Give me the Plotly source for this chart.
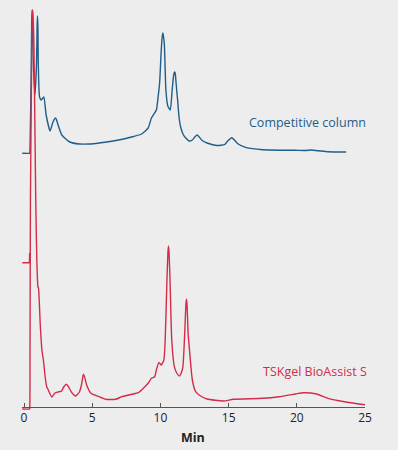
import plotly.graph_objects as go

# Competitive column (blue) — time (min), signal (offset trace)
blue_t = [-0.13, 0.40, 0.42, 0.45, 0.52, 0.56, 0.59, 0.62, 0.68, 0.80, 0.92, 0.96, 0.99, 1.02, 1.04, 1.14, 1.26, 1.45, 1.62, 1.91,
          2.12, 2.32, 2.52, 2.77, 3.35, 4.06, 4.78, 5.50, 6.94, 7.88, 8.62, 9.10, 9.34, 9.70, 9.82,
          9.94, 10.06, 10.13, 10.18, 10.23, 10.29, 10.40, 10.54, 10.72, 10.86, 10.97, 11.03, 11.08, 11.13, 11.19, 11.26, 11.37,
          11.50, 11.69, 11.86, 12.10, 12.34, 12.55, 12.70, 12.84, 13.06, 13.42, 14.14, 14.71, 14.93,
          15.22, 15.43, 15.65, 16.29, 17.50, 19.89, 20.61, 21.09, 21.55, 22.27, 23.61]
blue_v = [253.7, 253.7, 254, 267, 330, 385, 397, 385, 345, 312, 345, 382, 391, 378, 347, 310, 307, 310, 292, 276,
          285, 289, 281, 272, 265, 263, 263, 264, 267, 270, 273, 279, 289, 297, 309,
          324, 357, 370, 374, 370, 362, 317, 301, 297, 317, 332, 335, 334, 327, 317, 307, 289,
          279, 272, 269, 266, 267, 270.5, 272, 270, 266.5, 264, 261.5, 262.5, 266,
          269.3, 267, 263.5, 259.3, 257.3, 256.7, 256.5, 257, 256.2, 255.3, 255]

# TSKgel BioAssist S (red)
red_pre_t = [-0.13, 0.40, 0.41]
red_pre_v = [144.3, 144.3, 154]

red_t = [-0.13, 0.40, 0.42, 0.44, 0.47, 0.58, 0.61, 0.63, 0.66, 0.72, 0.86, 0.94, 1.02, 1.06, 1.19, 1.31, 1.42, 1.55, 1.67,
         1.78, 2.03, 2.27, 2.50, 2.75, 2.91, 3.11, 3.27, 3.47, 3.78, 4.06, 4.21, 4.35, 4.46, 4.59,
         4.91, 5.50, 5.99, 6.71, 7.18, 7.90, 8.38, 8.86, 9.10, 9.34, 9.58, 9.70, 9.89, 10.06,
         10.25, 10.35, 10.47, 10.55, 10.59, 10.63, 10.71, 10.83, 11.02, 11.19, 11.40, 11.55, 11.65, 11.78,
         11.87, 11.91, 11.95, 12.03, 12.10, 12.34, 12.58, 12.94, 13.42, 14.62, 15.34, 17.50, 18.69, 19.89,
         20.49, 21.45, 22.29, 23.49, 25.0]
red_v = [-2, -2, -1, 60, 207, 377, 392, 397, 392, 367, 207, 145, 120, 119, 82, 57, 47, 30, 20,
         17, 10, 14, 15, 16, 20, 22.7, 20, 15, 11, 15, 22, 32.7, 29, 22,
         13.7, 10.3, 7.7, 7.7, 10.3, 12.7, 14.3, 20.3, 23.7, 28.7, 30.3, 37, 44.5, 42,
         47, 67, 123.7, 155, 161, 155, 123.7, 67, 40.3, 34, 31, 35, 40.3, 73.7,
         103, 107.7, 103, 73.7, 62, 27, 15.3, 11, 8, 6, 7.7, 8.7, 10.3, 13,
         14.3, 13, 8.7, 5.3, 2.2]

x_ticks = [0, 5, 10, 15, 20, 25]
labels = ["Competitive column", "TSKgel BioAssist S"]
x_title = "Min"

BLUE = "#1f5e88"
RED = "#d42c48"
BG = "#ededed"
FONT = "Open Sans"

smooth = dict(width=1.4, shape="spline", smoothing=0.5)

fig = go.Figure()
fig.add_trace(go.Scatter(x=blue_t, y=blue_v, mode="lines",
                         line=dict(color=BLUE, **smooth), hoverinfo="skip"))
fig.add_trace(go.Scatter(x=red_pre_t, y=red_pre_v, mode="lines",
                         line=dict(color=RED, width=1.4), hoverinfo="skip"))
fig.add_trace(go.Scatter(x=red_t, y=red_v, mode="lines",
                         line=dict(color=RED, **smooth), hoverinfo="skip"))

W, H = 398, 450
fig.update_layout(
    width=W, height=H,
    margin=dict(l=0, r=0, t=0, b=0),
    paper_bgcolor=BG, plot_bgcolor=BG,
    showlegend=False,
    font=dict(family=FONT, size=12, color="#222"),
    xaxis=dict(domain=[21.5 / W, 371.5 / W], range=[-0.144, 25.0],
               anchor="free", position=(H - 407) / H,
               showline=True, linecolor="#555", linewidth=1,
               ticks="inside", ticklen=4, tickcolor="#555", tickwidth=1,
               tickvals=x_ticks, ticktext=[str(v) for v in x_ticks],
               tickfont=dict(family=FONT, size=12, color="#222"),
               showgrid=False, zeroline=False),
    yaxis=dict(domain=[(H - 412) / H, 1], range=[-5, 407], visible=False),
    annotations=[
        dict(text=labels[0], xref="paper", yref="paper", x=312.5 / W, y=(H - 122.7) / H,
             xanchor="center", yanchor="middle",
             showarrow=False, font=dict(family=FONT, size=12.5, color=BLUE)),
        dict(text=labels[1], xref="paper", yref="paper", x=320 / W, y=(H - 371.7) / H,
             xanchor="center", yanchor="middle",
             showarrow=False, font=dict(family=FONT, size=12.5, color=RED)),
        dict(text="<b>" + x_title + "</b>", xref="paper", yref="paper", x=196 / W,
             y=(H - 437) / H, xanchor="center", yanchor="middle",
             showarrow=False, font=dict(family=FONT, size=12.5, color="#222")),
    ],
)

fig.write_html("out.html", config={"displayModeBar": False},
               post_script="document.body.style.margin='0';document.body.style.overflow='hidden';")
